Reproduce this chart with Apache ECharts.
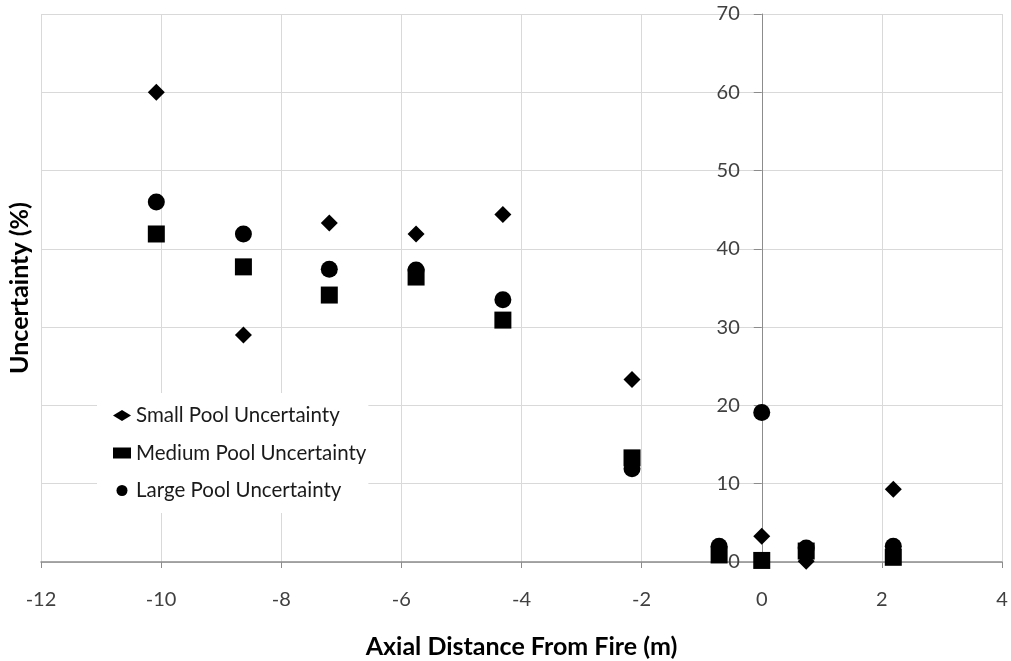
<!DOCTYPE html>
<html>
<head>
<meta charset="utf-8">
<title>Uncertainty vs Axial Distance</title>
<script src="https://cdn.jsdelivr.net/npm/echarts@6/dist/echarts.min.js"></script>
<style>
  html, body { margin: 0; padding: 0; background: #ffffff; }
  #chart { width: 1011px; height: 661px; }
</style>
</head>
<body>
<div id="chart"></div>
<script>
// Axial positions (m) of the measurement stations
const distances = [-10.08, -8.63, -7.2, -5.755, -4.31, -2.16, -0.71, 0, 0.74, 2.19];

// Uncertainty (%) per pool size; null where no value is plotted
const smallPool  = [60.0, 29.0, 43.3, 41.9, 44.4, 23.3, null, 3.3, 0.1, 9.3];
const mediumPool = [41.9, 37.7, 34.1, 36.4, 30.9, 13.3, 0.9, 0.2, 1.4, 0.6];
const largePool  = [46.0, 41.9, 37.4, 37.3, 33.5, 11.9, 2.0, 19.1, 1.8, 2.0];

const seriesNames = ['Small Pool Uncertainty', 'Medium Pool Uncertainty', 'Large Pool Uncertainty'];

const xTicks = { min: -12, max: 4, step: 2 };
const yTicks = { min: 0, max: 70, step: 10 };

function pairs(values) {
  const out = [];
  values.forEach(function (v, i) {
    if (v !== null) out.push([distances[i], v]);
  });
  return out;
}

const W = 1011, H = 661;
const grid = { left: 41, right: 9, top: 14, bottom: 99 };
// the vertical axis sits at x = 0, so shift it right from the grid's left edge
const plotWidth = W - grid.left - grid.right;
const yAxisShift = plotWidth * (0 - xTicks.min) / (xTicks.max - xTicks.min);

const chart = echarts.init(document.getElementById('chart'), null, { renderer: 'canvas' });

const baseFont = 'Lato, "Open Sans", sans-serif';

chart.setOption({
  animation: false,
  backgroundColor: '#ffffff',
  grid: {
    left: grid.left, right: grid.right, top: grid.top, bottom: grid.bottom,
    containLabel: false,
    outerBoundsMode: 'none'
  },
  legend: {
    orient: 'vertical',
    left: 97,
    top: 393,
    padding: [12, 2, 12, 16],
    backgroundColor: '#ffffff',
    itemWidth: 18,
    itemHeight: 11,
    itemGap: 16.5,
    data: seriesNames,
    textStyle: {
      fontFamily: baseFont,
      fontSize: 20.5,
      lineHeight: 20,
      color: '#1a1a1a'
    }
  },
  xAxis: {
    type: 'value',
    min: xTicks.min,
    max: xTicks.max,
    interval: xTicks.step,
    name: 'Axial Distance From Fire (m)',
    nameLocation: 'middle',
    nameGap: 72,
    nameTextStyle: {
      fontFamily: baseFont,
      fontWeight: 'bold',
      fontSize: 25,
      color: '#000000'
    },
    axisLine: { onZero: false, lineStyle: { color: '#8c8c8c', width: 1.5 } },
    axisTick: { show: true, inside: false, length: 6, lineStyle: { color: '#8c8c8c' } },
    axisLabel: {
      margin: 28,
      fontFamily: baseFont,
      fontSize: 20,
      color: '#404040'
    },
    splitLine: { show: true, lineStyle: { color: '#d9d9d9', width: 1 } }
  },
  yAxis: {
    type: 'value',
    min: yTicks.min,
    max: yTicks.max,
    interval: yTicks.step,
    position: 'left',
    offset: -yAxisShift,
    name: 'Uncertainty (%)',
    nameLocation: 'middle',
    nameGap: 729,
    nameRotate: 90,
    nameTextStyle: {
      fontFamily: baseFont,
      fontWeight: 'bold',
      fontSize: 25,
      color: '#000000'
    },
    axisLine: { show: true, onZero: false, lineStyle: { color: '#8c8c8c', width: 1 } },
    axisTick: { show: true, inside: false, length: 8, lineStyle: { color: '#8c8c8c' } },
    axisLabel: {
      margin: 22,
      fontFamily: baseFont,
      fontSize: 20,
      color: '#404040'
    },
    splitLine: { show: true, lineStyle: { color: '#d9d9d9', width: 1 } }
  },
  series: [
    {
      name: seriesNames[0],
      type: 'scatter',
      symbol: 'diamond',
      symbolSize: 17,
      itemStyle: { color: '#000000', opacity: 1 },
      data: pairs(smallPool)
    },
    {
      name: seriesNames[1],
      type: 'scatter',
      symbol: 'rect',
      symbolSize: 17,
      itemStyle: { color: '#000000', opacity: 1 },
      data: pairs(mediumPool)
    },
    {
      name: seriesNames[2],
      type: 'scatter',
      symbol: 'circle',
      symbolSize: 17,
      itemStyle: { color: '#000000', opacity: 1 },
      data: pairs(largePool)
    }
  ]
});
</script>
</body>
</html>
